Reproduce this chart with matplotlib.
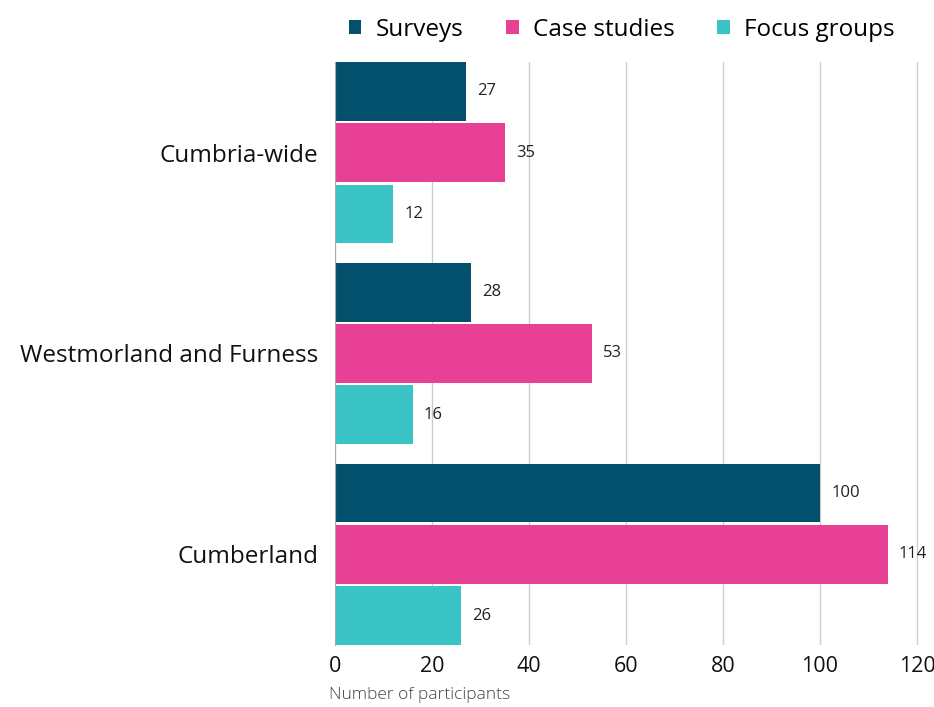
import matplotlib
matplotlib.use("Agg")
import matplotlib.pyplot as plt
import numpy as np

plt.rcParams['font.family'] = ['Open Sans', 'DejaVu Sans']

categories = ["Cumbria-wide", "Westmorland and Furness", "Cumberland"]
series_names = ["Surveys", "Case studies", "Focus groups"]
surveys = [27, 28, 100]
case_studies = [35, 53, 114]
focus_groups = [12, 16, 26]
colors = ["#02506B", "#E84095", "#3AC4C6"]
xticks = [0, 20, 40, 60, 80, 100, 120]

fig = plt.figure(figsize=(9.34, 7.07), dpi=100)
xmax = 121
ax = fig.add_axes([335/934, 1-645/707, (582*xmax/120)/934, 583/707])

pitch = 0.305
height = 0.293
y = np.arange(len(categories))
for i, (name, vals) in enumerate(zip(series_names, [surveys, case_studies, focus_groups])):
    pos = y + (i - 1) * pitch
    bars = ax.barh(pos, vals, height=height, color=colors[i], label=name, zorder=3)
    for b, v in zip(bars, vals):
        ax.annotate(str(v), (v, b.get_y() + b.get_height()/2), xytext=(8, 0),
                    textcoords="offset points", va="center", ha="left",
                    fontsize=12, color="#222222")

ax.set_ylim(2 + pitch + height/2, -pitch - height/2)
ax.set_xlim(0, xmax)
ax.set_yticks(y)
ax.set_yticklabels(categories, fontsize=17.5, color="#111111")
ax.set_xticks(xticks)
ax.set_xticklabels([str(t) for t in xticks], fontsize=15.5, color="#111111")
ax.tick_params(axis='both', length=0)
ax.tick_params(axis='y', pad=12)
ax.tick_params(axis='x', pad=8)
ax.grid(axis='x', color="#CCCCCC", linewidth=1, zorder=0)
for s in ["top", "right", "bottom"]:
    ax.spines[s].set_visible(False)
ax.spines["left"].set_color("#AAAAAA")
ax.spines["left"].set_zorder(4)
ax.set_xlabel("Number of participants", loc="left", fontsize=12.5, color="#444444",
              fontweight="light")
ax.xaxis.set_label_coords(-0.01, -0.072)

fig.legend(loc="upper center", bbox_to_anchor=(0.666, 1.006), ncol=3, frameon=False,
           fontsize=17.5, handlelength=0.5, handleheight=0.5, handletextpad=0.6,
           columnspacing=1.75)

fig.savefig("out.png", dpi=100)
